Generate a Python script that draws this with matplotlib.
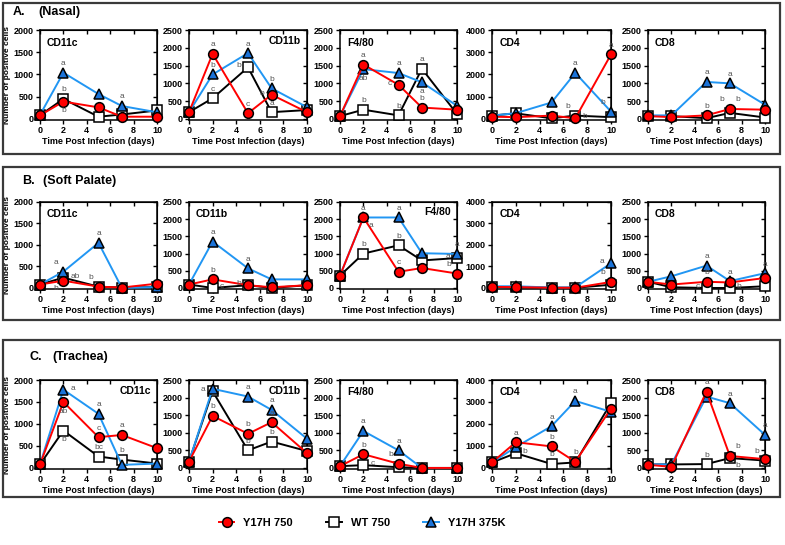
import matplotlib as mpl
mpl.use('Agg')
import matplotlib.pyplot as plt
from matplotlib.lines import Line2D
from matplotlib.patches import Rectangle

plt.rcParams['font.family'] = ['Liberation Sans', 'DejaVu Sans']

### data
days = [0, 2, 5, 7, 10]
markers = ['CD11c', 'CD11b', 'F4/80', 'CD4', 'CD8']
ymax = [2000, 2500, 2500, 4000, 2500]
ystep = [500, 500, 500, 1000, 500]
sections = ['A.', 'B.', 'C.']
tissues = ['(Nasal)', '(Soft Palate)', '(Trachea)']
series_names = ['Y17H 750', 'WT 750', 'Y17H 375K']

# nasal
nasal_y17h = [[80, 390, 260, 50, 50], [190, 1830, 160, 680, 190], [80, 1530, 960, 320, 260],
              [100, 80, 150, 30, 2900], [80, 50, 100, 280, 260]]
nasal_wt = [[80, 450, 50, 100, 190], [190, 580, 1450, 190, 250], [80, 260, 100, 1410, 140],
            [150, 250, 30, 150, 80], [80, 80, 20, 170, 40]]
nasal_375k = [[90, 1040, 560, 290, 150], [190, 1250, 1850, 860, 330], [80, 1400, 1290, 1030, 370],
              [150, 260, 740, 2070, 330], [100, 100, 1040, 1000, 400]]
# soft palate
palate_y17h = [[80, 170, 30, 10, 100], [100, 250, 80, 20, 80], [360, 2050, 470, 580, 420],
               [50, 40, 10, 10, 280], [180, 100, 180, 160, 290]]
palate_wt = [[80, 240, 30, 10, 20], [100, 0, 80, 0, 80], [360, 1000, 1240, 800, 870],
             [50, 30, 10, 10, 150], [180, 20, 0, 0, 50]]
palate_375k = [[80, 380, 1050, 0, 20], [100, 1350, 570, 250, 250], [360, 2050, 2050, 1010, 990],
               [80, 80, 20, 30, 1150], [180, 340, 650, 200, 430]]
# trachea
trachea_y17h = [[80, 1500, 700, 750, 450], [180, 1480, 970, 1300, 420], [50, 390, 120, 0, 0],
                [250, 1170, 980, 280, 2700], [90, 30, 2170, 340, 250]]
trachea_wt = [[80, 850, 260, 190, 100], [180, 2180, 500, 750, 480], [50, 80, 20, 0, 0],
              [250, 670, 180, 250, 2950], [100, 100, 110, 280, 210]]
trachea_375k = [[80, 1780, 1230, 70, 100], [180, 2250, 2030, 1650, 830], [50, 1050, 500, 0, 0],
                [250, 950, 1900, 3050, 2550], [100, 100, 2030, 1840, 940]]

data = [[nasal_y17h, nasal_wt, nasal_375k],
        [palate_y17h, palate_wt, palate_375k],
        [trachea_y17h, trachea_wt, trachea_375k]]

# significance letters: (row, col, series, point index, letter, where)
letters = [
  (0,0,2,1,'a','a'), (0,0,1,1,'b','a'), (0,0,0,1,'b','b'), (0,0,2,3,'a','a'),
  (0,1,0,1,'a','a'), (0,1,2,1,'b','a'), (0,1,1,1,'c','a'), (0,1,2,2,'a','a'), (0,1,1,2,'b','l'),
  (0,1,0,2,'c','a'), (0,1,2,3,'b','a'), (0,1,0,3,'b','l'), (0,1,1,3,'a','a'),
  (0,2,0,1,'a','a'), (0,2,2,1,'ab','b'), (0,2,1,1,'b','a'), (0,2,2,2,'a','a'), (0,2,0,2,'c','l'),
  (0,2,1,2,'b','a'), (0,2,1,3,'a','a'), (0,2,2,3,'a','b'), (0,2,0,3,'b','a'),
  (0,3,2,3,'a','a'), (0,3,0,4,'a','a'), (0,3,2,4,'b','al'), (0,3,1,3,'b','al'), (0,3,0,3,'b','r'),
  (0,4,2,2,'a','a'), (0,4,2,3,'a','a'), (0,4,0,2,'b','a'), (0,4,0,3,'b','al'), (0,4,0,3,'b','ar'),
  (1,0,2,1,'a','al'), (1,0,1,1,'ab','r'), (1,0,0,1,'b','bl'), (1,0,2,2,'a','a'), (1,0,1,2,'b','al'),
  (1,1,2,1,'a','a'), (1,1,0,1,'b','a'), (1,1,1,1,'c','r'), (1,1,2,2,'a','a'), (1,1,1,2,'b','l'),
  (1,2,0,1,'a','a'), (1,2,2,1,'a','br'), (1,2,1,1,'b','a'), (1,2,2,2,'a','a'), (1,2,1,2,'b','a'),
  (1,2,0,2,'c','a'), (1,2,1,4,'a','l'), (1,2,2,4,'a','a'), (1,2,0,4,'b','al'),
  (1,3,2,4,'a','l'), (1,3,0,4,'b','al'),
  (1,4,2,2,'a','a'), (1,4,0,2,'b','a'), (1,4,1,2,'c','l'), (1,4,2,3,'a','a'), (1,4,1,3,'b','r'),
  (1,4,2,4,'a','a'),
  (2,0,2,1,'a','r'), (2,0,0,1,'ab','b'), (2,0,1,1,'b','b'), (2,0,2,2,'a','a'), (2,0,0,2,'c','a'),
  (2,0,1,2,'bc','a'), (2,0,0,3,'a','a'), (2,0,1,3,'b','a'),
  (2,1,1,1,'a','l'), (2,1,0,1,'b','a'), (2,1,2,2,'a','a'), (2,1,0,2,'b','a'), (2,1,1,2,'b','a'),
  (2,1,2,3,'a','a'), (2,1,0,3,'a','a'), (2,1,1,3,'b','a'),
  (2,2,2,1,'a','a'), (2,2,0,1,'b','a'), (2,2,1,1,'c','r'), (2,2,2,2,'a','a'), (2,2,0,2,'b','al'),
  (2,3,0,1,'a','a'), (2,3,1,1,'b','r'), (2,3,2,2,'a','a'), (2,3,0,2,'b','a'), (2,3,1,2,'b','a'),
  (2,3,2,3,'a','a'), (2,3,0,3,'b','a'),
  (2,4,0,2,'a','a'), (2,4,2,3,'a','a'), (2,4,2,4,'a','a'), (2,4,1,2,'b','a'), (2,4,0,3,'b','ar'),
  (2,4,1,3,'b','br'), (2,4,1,4,'b','al'),
]
title_side = [['l', 'r', 'l', 'l', 'l'], ['l', 'l', 'r', 'l', 'l'], ['r', 'r', 'l', 'l', 'l']]

### styling
W, H = 785, 545
styles = [dict(color='#ff0000', marker='o', mfc='#ff0000', zorder=5),
          dict(color='black', marker='s', mfc='white', zorder=3),
          dict(color='#2196f3', marker='^', mfc='#1a73d9', zorder=4)]
offs = {'a': (0, 4, 'center', 'bottom'), 'b': (0, -4, 'center', 'top'),
        'l': (-5, 1, 'right', 'center'), 'r': (5, 1, 'left', 'center'),
        'al': (-4, 4, 'right', 'bottom'), 'ar': (4, 4, 'left', 'bottom'),
        'bl': (-4, -3, 'right', 'top'), 'br': (4, -3, 'left', 'top')}

row_px = [(30, 120), (202, 289), (380, 469)]
col_px = [(40, 157), (189, 307), (340, 457), (492, 611), (648, 765)]
box_px = [(3, 3, 780, 154), (3, 167, 780, 320), (3, 340, 780, 497)]
head_px = [(13, 38, 12), (22, 43, 181), (30, 52, 357)]

fig = plt.figure(figsize=(W/100., H/100.), dpi=100)

for r in range(3):
  x0, y0, x1, y1 = box_px[r]
  fig.patches.append(Rectangle((x0/W, 1-y1/H), (x1-x0)/W, (y1-y0)/H, transform=fig.transFigure,
                               fill=False, edgecolor='#3a3a3a', lw=1.6))
  hx1, hx2, hy = head_px[r]
  fig.text(hx1/W, 1-hy/H, sections[r], fontsize=9, fontweight='bold', va='center')
  fig.text(hx2/W, 1-hy/H, tissues[r], fontsize=9, fontweight='bold', va='center')
  top, bot = row_px[r]
  axs = []
  for c in range(5):
    left, right = col_px[c]
    ax = fig.add_axes([left/W, 1-bot/H, (right-left)/W, (bot-top)/H])
    axs.append(ax)
    for s in range(3):
      st = styles[s]
      ax.plot(days, data[r][s][c], color=st['color'], marker=st['marker'], mfc=st['mfc'],
              mec='black', mew=1.1, ms=7, lw=1.4, zorder=st['zorder'], clip_on=False)
    ax.set_xlim(0, 10)
    ax.set_ylim(-ymax[c]*0.012, ymax[c])
    ax.set_xticks(range(0, 11, 2))
    ax.set_yticks(range(0, ymax[c]+1, ystep[c]))
    for sp in ax.spines.values():
      sp.set_linewidth(1.1)
    ax.tick_params(direction='out', length=3, width=1, pad=1.5, labelsize=6.5)
    for lab in ax.get_xticklabels() + ax.get_yticklabels():
      lab.set_fontweight('bold')
    sx = ax.secondary_xaxis('top')
    sx.set_xticks(range(0, 11, 2))
    sx.tick_params(direction='in', length=3, width=1, labeltop=False)
    sy = ax.secondary_yaxis('right')
    sy.set_yticks(range(0, ymax[c]+1, ystep[c]))
    sy.tick_params(direction='in', length=3, width=1, labelright=False)
    ax.set_xlabel('Time Post Infection (days)', fontsize=6.5, fontweight='bold', labelpad=1.5)
    if c == 0:
      ax.set_ylabel('Number of positive cells', fontsize=6, fontweight='bold', labelpad=2)
    if title_side[r][c] == 'l':
      ax.text(0.06, 0.86, markers[c], transform=ax.transAxes, fontsize=7.5, fontweight='bold',
              ha='left', va='center')
    else:
      ax.text(0.95, 0.88, markers[c], transform=ax.transAxes, fontsize=7.5, fontweight='bold',
              ha='right', va='center')
  for (rr, c, s, i, let, where) in letters:
    if rr != r:
      continue
    dx, dy, ha, va = offs[where]
    axs[c].annotate(let, xy=(days[i], data[r][s][c][i]), xytext=(dx, dy), textcoords='offset points',
                    ha=ha, va=va, fontsize=6, color='#555555', zorder=6)

handles = [Line2D([], [], color=st['color'], marker=st['marker'], mfc=st['mfc'], mec='black',
                  mew=1.1, ms=7, lw=1.4) for st in styles]
fig.legend(handles, series_names, loc='center', bbox_to_anchor=(362/W, 1-523/H), ncol=3,
           frameon=False, handlelength=1.4, columnspacing=3.0, handletextpad=0.8,
           prop={'weight': 'bold', 'size': 8})

plt.savefig('out.png', dpi=100)
